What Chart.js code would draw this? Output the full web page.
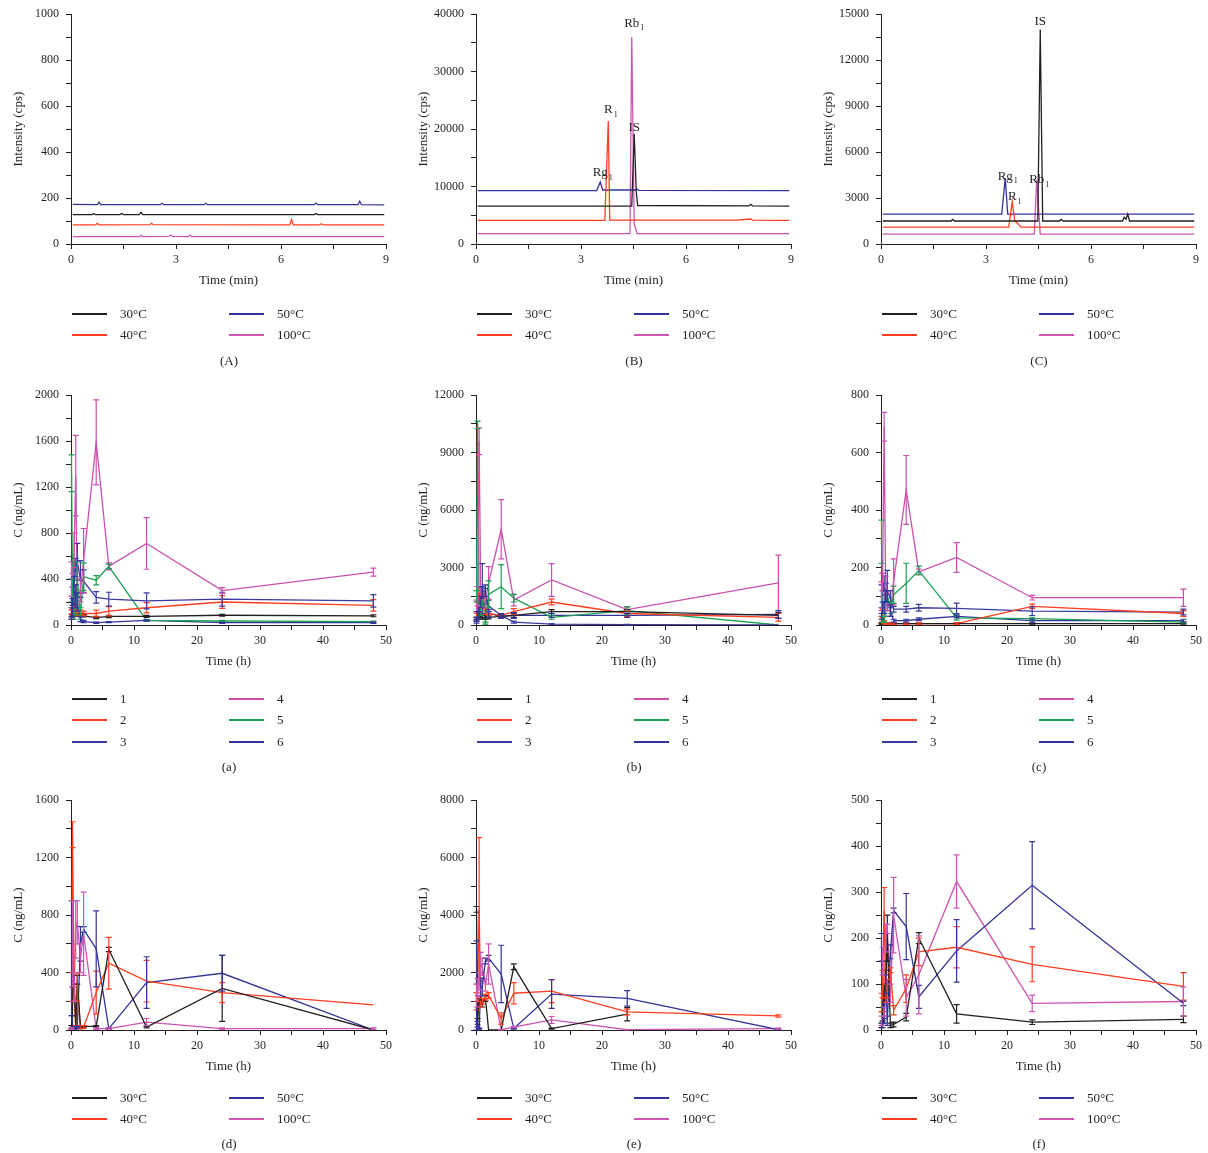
<!DOCTYPE html>
<html>
<head>
<meta charset="utf-8">
<script src="https://cdn.jsdelivr.net/npm/chart.js@4"></script>
<style>
  body { margin: 0; background: #fff; font-family: "Liberation Serif", "DejaVu Serif", serif; color: #231f20; -webkit-font-smoothing: antialiased; }
  #fig { position: relative; width: 1208px; height: 1153px; overflow: hidden; }
  #fig canvas { position: absolute; }
  .legLine { position: absolute; width: 35px; height: 2px; }
  .legText { position: absolute; font-size: 13px; line-height: 14px; white-space: nowrap; will-change: transform; }
  .cap { position: absolute; font-size: 13px; line-height: 14px; transform: translateX(-50%); will-change: transform; }
</style>
</head>
<body>
<div id="fig"></div>
<script>
// ---------- chromatograms (time in min, intensity in cps) ----------
let chromA30_t = [0.05, 0.6, 0.65, 0.7, 1.4, 1.45, 1.5, 1.95, 2.0, 2.05, 6.95, 7.0, 7.05, 8.95];
let chromA30_v = [128, 128, 132, 128, 128, 133, 128, 128, 138, 128, 128, 133, 128, 128];
let chromA40_t = [0.05, 0.7, 0.75, 0.8, 2.25, 2.3, 2.35, 6.25, 6.3, 6.35, 7.1, 7.15, 7.2, 8.95];
let chromA40_v = [83, 83, 90, 83, 84, 90, 84, 83, 106, 83, 83, 88, 83, 83];
let chromA50_t = [0.05, 0.75, 0.8, 0.85, 2.55, 2.6, 2.65, 3.8, 3.85, 3.9, 6.95, 7.0, 7.05, 8.2, 8.25, 8.3, 8.95];
let chromA50_v = [172, 171, 181, 171, 171, 177, 171, 171, 177, 171, 171, 178, 171, 171, 186, 171, 170];
let chromA100_t = [0.05, 1.95, 2.0, 2.05, 2.8, 2.85, 2.9, 3.35, 3.4, 3.45, 8.95];
let chromA100_v = [32, 32, 38, 32, 33, 40, 33, 32, 39, 32, 32];

let chromB30_t = [0.05, 4.45, 4.52, 4.58, 4.62, 7.8, 7.85, 7.9, 8.95];
let chromB30_v = [6600, 6600, 19200, 9000, 6700, 6650, 6900, 6650, 6600];
let chromB40_t = [0.05, 3.68, 3.78, 3.82, 7.45, 7.85, 7.9, 8.95];
let chromB40_v = [4100, 4100, 21400, 4150, 4150, 4350, 4150, 4100];
let chromB50_t = [0.05, 3.45, 3.55, 3.62, 4.55, 4.6, 4.65, 8.95];
let chromB50_v = [9300, 9300, 10800, 9400, 9400, 9550, 9350, 9300];
let chromB100_t = [0.05, 4.4, 4.45, 4.52, 4.6, 8.95];
let chromB100_v = [1800, 1800, 36000, 3500, 1800, 1800];

let chromC30_t = [0.05, 2.0, 2.05, 2.1, 4.48, 4.55, 4.62, 5.1, 5.15, 5.2, 6.9, 6.95, 7.0, 7.05, 7.1, 8.95];
let chromC30_v = [1500, 1500, 1600, 1500, 1500, 14000, 1500, 1500, 1600, 1500, 1500, 1750, 1600, 1950, 1500, 1500];
let chromC40_t = [0.05, 3.65, 3.75, 3.82, 3.9, 4.0, 8.95];
let chromC40_v = [1100, 1100, 2750, 1500, 1350, 1100, 1100];
let chromC50_t = [0.05, 3.45, 3.55, 3.62, 8.95];
let chromC50_v = [1950, 1950, 4300, 1950, 1950];
let chromC100_t = [0.05, 4.38, 4.45, 4.55, 8.95];
let chromC100_v = [650, 650, 4200, 650, 650];

// ---------- concentration-time curves (h, ng/mL), mean and SD ----------
let pkTimes = [0.083, 0.25, 0.5, 0.75, 1, 1.5, 2, 4, 6, 12, 24, 48];

let concA_1 = [60, 90, 85, 90, 90, 85, 80, 65, 75, 75, 85, 80];
let sdA_1 = [10, 10, 10, 10, 10, 10, 10, 10, 10, 8, 8, 8];
let concA_2 = [110, 120, 130, 150, 100, 110, 100, 100, 120, 150, 200, 170];
let sdA_2 = [20, 20, 30, 30, 20, 20, 20, 30, 40, 45, 55, 50];
let concA_3 = [300, 250, 450, 500, 550, 400, 380, 240, 225, 210, 225, 210];
let sdA_3 = [100, 80, 100, 80, 160, 160, 100, 50, 60, 70, 60, 55];
let concA_4 = [400, 350, 650, 1300, 300, 300, 560, 1590, 510, 710, 300, 460];
let sdA_4 = [150, 100, 150, 350, 100, 100, 280, 370, 30, 225, 25, 35];
let concA_5 = [1320, 300, 100, 150, 400, 100, 420, 390, 510, 40, 35, 30];
let sdA_5 = [160, 100, 50, 60, 150, 50, 120, 40, 20, 8, 5, 5];
let concA_6 = [100, 150, 300, 250, 200, 50, 30, 20, 25, 40, 20, 20];
let sdA_6 = [50, 80, 120, 100, 80, 20, 10, 5, 5, 5, 5, 5];

let concB_1 = [300, 500, 400, 450, 400, 400, 400, 450, 500, 700, 700, 500];
let sdB_1 = [100, 100, 100, 100, 100, 100, 80, 80, 100, 100, 100, 150];
let concB_2 = [500, 900, 1500, 1800, 1800, 700, 600, 500, 700, 1200, 600, 400];
let sdB_2 = [200, 300, 500, 200, 200, 150, 100, 100, 150, 150, 150, 200];
let concB_3 = [200, 500, 1000, 1500, 1900, 1500, 1000, 500, 150, 50, 20, 0];
let sdB_3 = [100, 200, 300, 500, 1300, 400, 300, 100, 50, 20, 10, 0];
let concB_4 = [1000, 1500, 9600, 1500, 1200, 1200, 2200, 5000, 1300, 2350, 800, 2200];
let sdB_4 = [300, 500, 700, 500, 300, 300, 850, 1550, 300, 850, 150, 1450];
let concB_5 = [1500, 10450, 500, 800, 1500, 100, 1600, 2000, 1400, 400, 750, 0];
let sdB_5 = [300, 200, 200, 300, 500, 50, 700, 1150, 200, 100, 200, 0];
let concB_6 = [300, 500, 500, 1200, 1700, 1800, 600, 450, 500, 500, 500, 550];
let sdB_6 = [100, 200, 200, 300, 300, 300, 200, 100, 150, 100, 100, 200];

let concC_1 = [5, 5, 5, 5, 5, 5, 5, 5, 5, 5, 5, 5];
let sdC_1 = [2, 2, 2, 2, 2, 2, 2, 2, 2, 2, 2, 2];
let concC_2 = [20, 40, 10, 5, 5, 5, 5, 5, 5, 5, 65, 40];
let sdC_2 = [10, 15, 5, 3, 3, 3, 3, 3, 3, 3, 8, 10];
let concC_3 = [100, 150, 120, 125, 120, 90, 55, 55, 60, 58, 48, 45];
let sdC_3 = [40, 30, 50, 20, 70, 30, 10, 10, 12, 18, 15, 10];
let concC_4 = [100, 150, 690, 100, 80, 50, 150, 470, 185, 235, 95, 95];
let sdC_4 = [50, 30, 50, 70, 30, 20, 80, 120, 10, 52, 8, 30];
let concC_5 = [290, 20, 20, 100, 100, 60, 105, 145, 190, 25, 22, 10];
let sdC_5 = [75, 10, 10, 20, 20, 20, 30, 70, 15, 8, 5, 3];
let concC_6 = [30, 60, 60, 100, 100, 50, 15, 15, 20, 30, 15, 15];
let sdC_6 = [10, 20, 20, 20, 20, 20, 5, 5, 5, 5, 5, 5];

let concD_30 = [20, 200, 350, 20, 350, 20, 25, 25, 560, 20, 290, 0];
let sdD_30 = [10, 100, 30, 10, 30, 10, 5, 5, 15, 5, 230, 0];
let concD_40 = [300, 1360, 300, 20, 300, 20, 20, 260, 465, 340, 260, 175];
let sdD_40 = [100, 90, 100, 10, 100, 10, 10, 150, 180, 145, 70, 0];
let concD_50 = [500, 10, 10, 20, 20, 600, 700, 565, 10, 330, 395, 0];
let sdD_50 = [400, 5, 5, 5, 5, 120, 20, 265, 5, 180, 125, 0];
let concD_100 = [10, 600, 300, 700, 750, 500, 670, 10, 10, 55, 10, 10];
let sdD_100 = [5, 300, 100, 200, 150, 100, 290, 5, 5, 25, 5, 5];

let concE_30 = [4200, 300, 1000, 1100, 900, 1100, 0, 0, 2200, 50, 550, null];
let sdE_30 = [100, 100, 100, 100, 100, 100, 0, 0, 100, 20, 230, 0];
let concE_40 = [1000, 1300, 4200, 900, 1000, 1150, 1200, 400, 1280, 1350, 630, 490];
let sdE_40 = [300, 300, 2500, 100, 100, 100, 100, 200, 370, 400, 100, 40];
let concE_50 = [1500, 200, 50, 1500, 1500, 2400, 2500, 1950, 50, 1250, 1100, 10];
let sdE_50 = [1600, 100, 20, 300, 300, 100, 100, 1000, 20, 500, 270, 5];
let concE_100 = [1200, 1500, 1700, 2300, 2200, 1550, 2300, 10, 100, 350, 10, 50];
let sdE_100 = [400, 300, 300, 400, 300, 200, 700, 5, 20, 120, 5, 20];

let concF_30 = [10, 30, 80, 100, 200, 10, 12, 28, 200, 35, 17, 23];
let sdF_30 = [5, 10, 20, 30, 50, 5, 5, 8, 12, 20, 5, 7];
let concF_40 = [60, 100, 260, 80, 90, 130, 43, 90, 170, 180, 143, 95];
let sdF_40 = [20, 30, 50, 20, 20, 5, 10, 30, 30, 45, 38, 30];
let concF_50 = [180, 10, 20, 100, 20, 170, 260, 225, 72, 172, 315, 58];
let sdF_50 = [30, 5, 5, 20, 10, 15, 5, 72, 25, 68, 95, 5];
let concF_100 = [20, 150, 40, 200, 220, 80, 250, 70, 120, 323, 58, 62];
let sdF_100 = [10, 30, 10, 30, 10, 20, 82, 40, 85, 58, 18, 32];

// legend names and colours
let tempNames = ['30°C', '40°C', '50°C', '100°C'];
let tempColors = ['#231f20', '#ff3d1f', '#33339a', '#cc55b2'];
let groupNames = ['1', '2', '3', '4', '5', '6'];
let groupColors = ['#231f20', '#ff3d1f', '#3a3aa0', '#cc4fae', '#19a050', '#33339a'];

Chart.defaults.font.family = '"Liberation Serif", "DejaVu Serif", serif';
Chart.defaults.color = '#231f20';

let fig = document.querySelector('#fig');
let colX = [0, 405, 810];
let rowY = [0, 381, 786];

// Error bars
let errorBarPlugin = {
  id: 'errorBars',
  afterDatasetsDraw(chart) {
    let ctx = chart.ctx;
    let xs = chart.scales.x;
    let ys = chart.scales.y;
    chart.data.datasets.forEach(function (ds) {
      if (!ds.sd) return;
      ctx.save();
      ctx.strokeStyle = ds.borderColor;
      ctx.lineWidth = 1.2;
      ds.data.forEach(function (p, i) {
        if (p.y === null || !ds.sd[i]) return;
        let px = xs.getPixelForValue(p.x);
        let top = ys.getPixelForValue(p.y + ds.sd[i]);
        let bot = ys.getPixelForValue(Math.max(0, p.y - ds.sd[i]));
        ctx.beginPath();
        ctx.moveTo(px, top); ctx.lineTo(px, bot);
        ctx.moveTo(px - 3, top); ctx.lineTo(px + 3, top);
        ctx.moveTo(px - 3, bot); ctx.lineTo(px + 3, bot);
        ctx.stroke();
      });
      ctx.restore();
    });
  }
};

// Peak names with subscripts
let peakLabelPlugin = {
  id: 'peakLabels',
  afterDatasetsDraw(chart, args, opts) {
    if (!opts.items) return;
    let ctx = chart.ctx;
    ctx.save();
    ctx.fillStyle = '#231f20';
    ctx.textBaseline = 'middle';
    opts.items.forEach(function (lab) {
      let px = chart.scales.x.getPixelForValue(lab.t);
      let py = chart.scales.y.getPixelForValue(lab.v) + lab.dy;
      ctx.font = '13px "Liberation Serif", serif';
      let w = ctx.measureText(lab.text).width;
      ctx.textAlign = 'left';
      ctx.fillText(lab.text, px - w / 2, py);
      if (lab.sub) {
        ctx.font = '8px "Liberation Serif", serif';
        ctx.fillText(lab.sub, px + w / 2 + 1, py + 5);
      }
    });
    ctx.restore();
  }
};

function axis(max, step, labelEvery, title, isY) {
  return {
    type: 'linear',
    min: 0,
    max: max,
    grid: { drawOnChartArea: false, drawTicks: true, tickLength: 5, color: '#231f20', tickColor: '#231f20' },
    border: { display: true, color: '#231f20', width: 1 },
    ticks: {
      stepSize: step,
      autoSkip: false,
      maxRotation: 0,
      padding: isY ? 7 : 4,
      font: { size: 12 },
      callback: function (v) {
        let r = v / labelEvery;
        return Math.abs(r - Math.round(r)) < 1e-6 ? v : '';
      }
    },
    title: { display: true, text: title, font: { size: 13 }, padding: 0 },
    afterFit: function (scale) {
      if (isY) scale.width = 60;
      else scale.height = 44;
    }
  };
}

function makeCanvas(col, row) {
  let c = document.createElement('canvas');
  c.width = 398;
  c.height = 288;
  c.style.left = colX[col] + 'px';
  c.style.top = rowY[row] + 'px';
  fig.appendChild(c);
  return c;
}

function lineSet(name, color, xs, ys, sd) {
  let pts = [];
  for (let i = 0; i < xs.length; i++) {
    pts.push({ x: xs[i], y: ys[i] });
  }
  return {
    label: name,
    data: pts,
    borderColor: color,
    backgroundColor: color,
    borderWidth: 1.3,
    pointRadius: 0,
    tension: 0,
    sd: sd
  };
}

function makeChart(col, row, datasets, xAxis, yAxis, labels) {
  return new Chart(makeCanvas(col, row), {
    type: 'line',
    data: { datasets: datasets },
    options: {
      responsive: false,
      animation: false,
      layout: { padding: { left: 11, right: 12, top: 14, bottom: 0 } },
      scales: { x: xAxis, y: yAxis },
      plugins: {
        legend: { display: false },
        tooltip: { enabled: false },
        peakLabels: { items: labels || [] }
      }
    },
    plugins: [errorBarPlugin, peakLabelPlugin]
  });
}

// Legend + caption
function legend(col, ys, names, colors, capY, capText) {
  let rows = ys.length;
  for (let i = 0; i < names.length; i++) {
    let c = Math.floor(i / rows);
    let y = ys[i % rows];
    let x0 = colX[col] + (c === 0 ? 72 : 229);
    let ln = document.createElement('div');
    ln.className = 'legLine';
    ln.style.left = x0 + 'px';
    ln.style.top = (y - 1) + 'px';
    ln.style.backgroundColor = colors[i];
    fig.appendChild(ln);
    let tx = document.createElement('div');
    tx.className = 'legText';
    tx.style.left = (x0 + 48) + 'px';
    tx.style.top = (y - 7) + 'px';
    tx.textContent = names[i];
    fig.appendChild(tx);
  }
  let cap = document.createElement('div');
  cap.className = 'cap';
  cap.style.left = (colX[col] + 229) + 'px';
  cap.style.top = (capY - 7) + 'px';
  cap.textContent = capText;
  fig.appendChild(cap);
}

// ---------- row 1: chromatograms ----------
function chromSets(t30, v30, t40, v40, t50, v50, t100, v100) {
  return [
    lineSet(tempNames[0], tempColors[0], t30, v30),
    lineSet(tempNames[1], tempColors[1], t40, v40),
    lineSet(tempNames[2], tempColors[2], t50, v50),
    lineSet(tempNames[3], tempColors[3], t100, v100)
  ];
}

makeChart(0, 0,
  chromSets(chromA30_t, chromA30_v, chromA40_t, chromA40_v, chromA50_t, chromA50_v, chromA100_t, chromA100_v),
  axis(9, 1.5, 3, 'Time (min)', false), axis(1000, 100, 200, 'Intensity (cps)', true));

makeChart(1, 0,
  chromSets(chromB30_t, chromB30_v, chromB40_t, chromB40_v, chromB50_t, chromB50_v, chromB100_t, chromB100_v),
  axis(9, 1.5, 3, 'Time (min)', false), axis(40000, 5000, 10000, 'Intensity (cps)', true),
  [
    { text: 'Rb', sub: '1', t: 4.45, v: 36000, dy: -14 },
    { text: 'R', sub: '1', t: 3.78, v: 21400, dy: -11 },
    { text: 'IS', t: 4.52, v: 19200, dy: -6 },
    { text: 'Rg', sub: '1', t: 3.55, v: 10800, dy: -9 }
  ]);

makeChart(2, 0,
  chromSets(chromC30_t, chromC30_v, chromC40_t, chromC40_v, chromC50_t, chromC50_v, chromC100_t, chromC100_v),
  axis(9, 1.5, 3, 'Time (min)', false), axis(15000, 1500, 3000, 'Intensity (cps)', true),
  [
    { text: 'IS', t: 4.55, v: 14000, dy: -8 },
    { text: 'Rg', sub: '1', t: 3.55, v: 4300, dy: -2 },
    { text: 'R', sub: '1', t: 3.75, v: 2750, dy: -5 },
    { text: 'Rb', sub: '1', t: 4.45, v: 4200, dy: 0 }
  ]);

legend(0, [314, 335], tempNames, tempColors, 361, '(A)');
legend(1, [314, 335], tempNames, tempColors, 361, '(B)');
legend(2, [314, 335], tempNames, tempColors, 361, '(C)');

// ---------- row 2: groups 1-6 ----------
function groupSets(c1, s1, c2, s2, c3, s3, c4, s4, c5, s5, c6, s6) {
  let cs = [c1, c2, c3, c4, c5, c6];
  let ss = [s1, s2, s3, s4, s5, s6];
  let out = [];
  for (let i = 0; i < 6; i++) {
    out.push(lineSet(groupNames[i], groupColors[i], pkTimes, cs[i], ss[i]));
  }
  return out;
}

makeChart(0, 1,
  groupSets(concA_1, sdA_1, concA_2, sdA_2, concA_3, sdA_3, concA_4, sdA_4, concA_5, sdA_5, concA_6, sdA_6),
  axis(50, 5, 10, 'Time (h)', false), axis(2000, 200, 400, 'C (ng/mL)', true));
makeChart(1, 1,
  groupSets(concB_1, sdB_1, concB_2, sdB_2, concB_3, sdB_3, concB_4, sdB_4, concB_5, sdB_5, concB_6, sdB_6),
  axis(50, 5, 10, 'Time (h)', false), axis(12000, 1500, 3000, 'C (ng/mL)', true));
makeChart(2, 1,
  groupSets(concC_1, sdC_1, concC_2, sdC_2, concC_3, sdC_3, concC_4, sdC_4, concC_5, sdC_5, concC_6, sdC_6),
  axis(50, 5, 10, 'Time (h)', false), axis(800, 100, 200, 'C (ng/mL)', true));

legend(0, [699, 720, 742], groupNames, groupColors, 767, '(a)');
legend(1, [699, 720, 742], groupNames, groupColors, 767, '(b)');
legend(2, [699, 720, 742], groupNames, groupColors, 767, '(c)');

// ---------- row 3: temperatures ----------
function tempSets(c30, s30, c40, s40, c50, s50, c100, s100) {
  return [
    lineSet(tempNames[0], tempColors[0], pkTimes, c30, s30),
    lineSet(tempNames[1], tempColors[1], pkTimes, c40, s40),
    lineSet(tempNames[2], tempColors[2], pkTimes, c50, s50),
    lineSet(tempNames[3], tempColors[3], pkTimes, c100, s100)
  ];
}

makeChart(0, 2,
  tempSets(concD_30, sdD_30, concD_40, sdD_40, concD_50, sdD_50, concD_100, sdD_100),
  axis(50, 5, 10, 'Time (h)', false), axis(1600, 200, 400, 'C (ng/mL)', true));
makeChart(1, 2,
  tempSets(concE_30, sdE_30, concE_40, sdE_40, concE_50, sdE_50, concE_100, sdE_100),
  axis(50, 5, 10, 'Time (h)', false), axis(8000, 1000, 2000, 'C (ng/mL)', true));
makeChart(2, 2,
  tempSets(concF_30, sdF_30, concF_40, sdF_40, concF_50, sdF_50, concF_100, sdF_100),
  axis(50, 5, 10, 'Time (h)', false), axis(500, 50, 100, 'C (ng/mL)', true));

legend(0, [1098, 1119], tempNames, tempColors, 1144, '(d)');
legend(1, [1098, 1119], tempNames, tempColors, 1144, '(e)');
legend(2, [1098, 1119], tempNames, tempColors, 1144, '(f)');
</script>
</body>
</html>
